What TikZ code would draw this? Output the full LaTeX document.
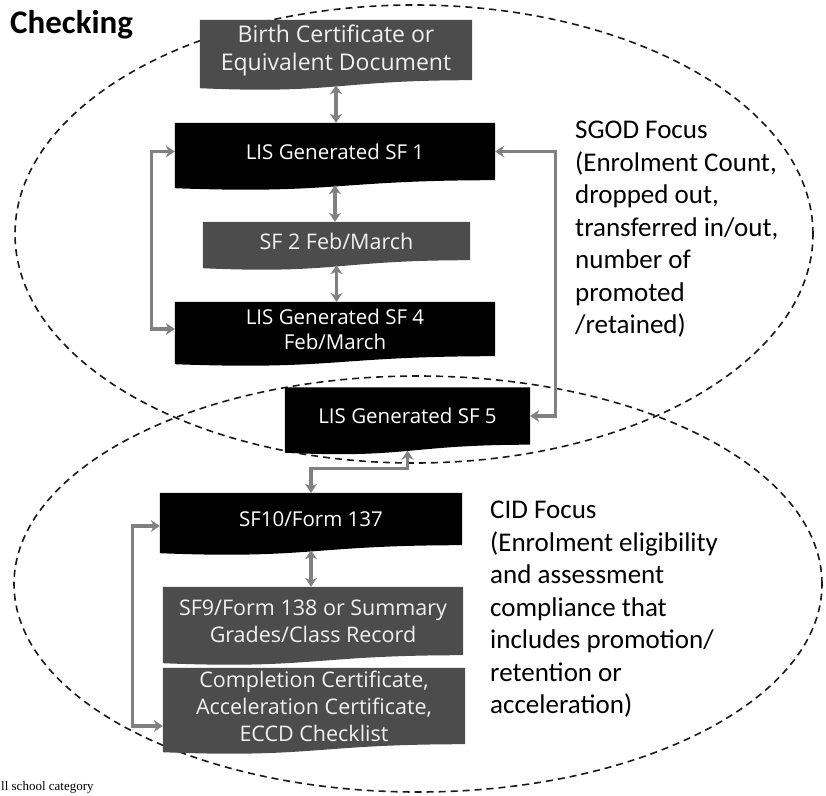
\documentclass[tikz,border=0pt]{standalone}
\usepackage{fontspec}
\setmainfont{Carlito}
\newfontfamily\boxfont{Open Sans}
\newfontfamily\scanfont{Liberation Serif}
\usetikzlibrary{arrows.meta,calc,backgrounds}
\colorlet{boxdark}{black}
\colorlet{boxgray}{black!70}
\colorlet{linkgray}{black!50}

\begin{document}
\begin{tikzpicture}[x=1pt, y=-1pt, every node/.style={inner sep=0pt},
    formbox/.style 2 args={minimum width=#1, minimum height=#2, align=center,
                           text=white, font=\boxfont\fontsize{20.5}{25}\selectfont},
    graybox/.style 2 args={formbox={#1}{#2}, text=black!6,
                           font=\boxfont\fontsize{21.5}{27}\selectfont},
    focus/.style={anchor=north west, align=left, font=\fontsize{27}{32.5}\selectfont},
    zone/.style={draw=black!90, line width=1.6pt, dash pattern=on 7pt off 5pt},
    dbl/.style={draw=linkgray, line width=3.2pt,
                {Stealth[length=9pt,width=12pt]}-{Stealth[length=9pt,width=12pt]}},
    ]
    \useasboundingbox (0,0) rectangle (826,795);

    \node[anchor=base west, font=\bfseries\fontsize{33}{40}\selectfont] (title) at (10,33) {Checking};

    % the forms, top to bottom
    \node[graybox={272pt}{60pt}, font=\boxfont\fontsize{23}{28}\selectfont] (birth) at (336,50) {Birth Certificate or\\Equivalent Document};
    \node[formbox={320pt}{57pt}] (sf1) at (335,151.5) {LIS Generated SF 1};
    \node[graybox={267pt}{38pt}] (sf2) at (336.5,241) {SF 2 Feb/March};
    \node[formbox={320pt}{54pt}] (sf4) at (335,329) {LIS Generated SF 4\\Feb/March};
    \node[formbox={245pt}{57pt}] (sf5) at (407.5,416) {LIS Generated SF 5};
    \node[formbox={302pt}{52pt}] (sf10) at (311,519) {SF10/Form 137};
    \node[graybox={300pt}{68pt}] (sf9) at (313,621) {SF9/Form 138 or Summary\\Grades/Class Record};
    \node[graybox={302pt}{76pt}] (cert) at (314,706) {Completion Certificate,\\Acceleration Certificate,\\ECCD Checklist};

    % focus notes
    \node[focus] (sgod) at (575,121) {SGOD Focus\\(Enrolment Count,\\dropped out,\\transferred in/out,\\number of\\promoted\\/retained)};
    \node[focus] (cid) at (490,501) {CID Focus\\(Enrolment eligibility\\and assessment\\compliance that\\includes promotion/\\retention or\\acceleration)};

    \node[anchor=base west, font=\scanfont\fontsize{13}{16}\selectfont] (note) at (1,790) {ll school category};

    \begin{scope}[on background layer]
        \draw[zone] (414,234) ellipse [x radius=399pt, y radius=229pt];
        \draw[zone] (418,584) ellipse [x radius=404pt, y radius=208pt];
        \foreach \n/\c in {birth/boxgray, sf1/boxdark, sf2/boxgray, sf4/boxdark,
                           sf5/boxdark, sf10/boxdark, sf9/boxgray, cert/boxgray}
            \fill[\c] (\n.north west) -- (\n.north east) -- (\n.south east)
                .. controls (\n.south) and ([yshift=-14pt]\n.south) .. ([yshift=-8pt]\n.south west) -- cycle;
    \end{scope}

    % links
    \foreach \a/\b in {birth/sf1, sf1/sf2, sf2/sf4, sf10/sf9}
        \draw[dbl, shorten <=5pt] (\a.south) -- (\a.south |- \b.north);
    \draw[dbl] (sf1.west) -- ++(-23,0) |- (sf4.west);
    \draw[dbl] (sf1.east) -- ++(60,0) |- (sf5.east);
    \draw[dbl, shorten <=6pt] (sf5.south) |- ($(sf5.south)!0.5!(sf10.north)$) -| (sf10.north);
    \draw[dbl] ([yshift=-7pt]sf10.west) -- ++(-27,0) |- ([yshift=-20pt]cert.west);
\end{tikzpicture}
\end{document}
